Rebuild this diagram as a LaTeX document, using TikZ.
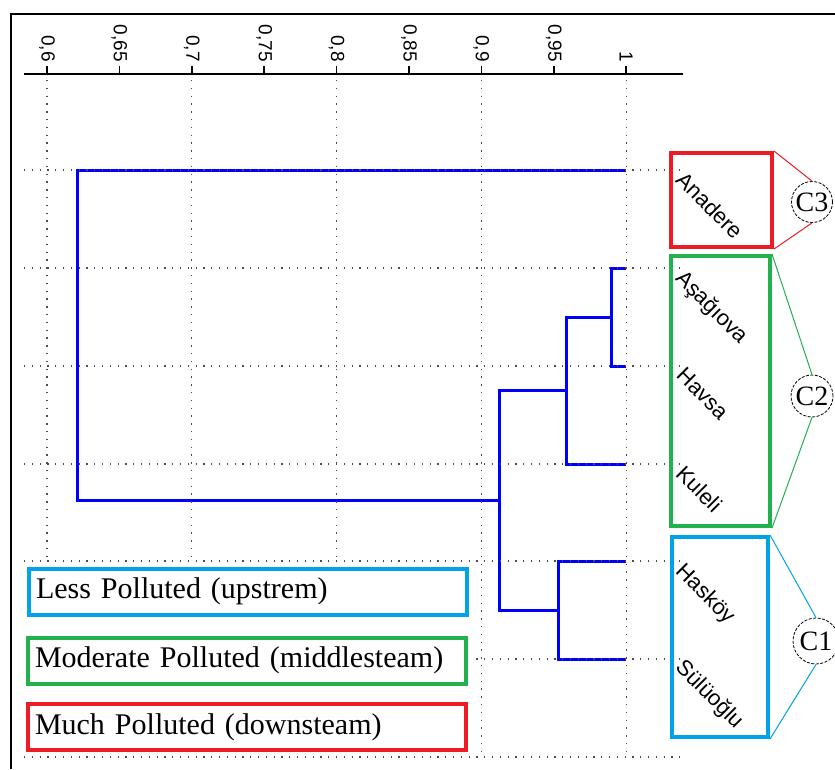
\documentclass[tikz,border=0pt]{standalone}
\usepackage{fontspec}
\setmainfont{Liberation Serif}
\newfontfamily\sitefont{Liberation Sans}

\definecolor{muchred}{RGB}{237,28,36}
\definecolor{modgreen}{RGB}{34,177,76}
\definecolor{lessblue}{RGB}{0,162,232}

\tikzset{
  gridline/.style={dash pattern=on 1.3pt off 6.5pt, line width=1.3pt, black!70},
  treeline/.style={line width=3pt, blue},
  clusterbox/.style={draw=#1, line width=4pt, inner sep=0pt},
  clustercirc/.style={circle, draw=black, dash pattern=on 3pt off 1.5pt, line width=0.8pt, inner sep=0pt, font=\fontsize{28}{30}\selectfont},
  clusterlink/.style={#1, line width=1pt},
  sitelabel/.style={anchor=north west, rotate=-45, inner sep=0pt, font=\sitefont\fontsize{22}{24}\selectfont},
  ticklabel/.style={anchor=east, rotate=-90, inner sep=0pt, font=\sitefont\fontsize{19}{21}\selectfont},
  legendbox/.style={draw=#1, line width=4pt, fill=white, minimum height=46pt, text width=424pt, inner xsep=7pt, align=left, font=\fontsize{30}{32}\selectfont}
}

\begin{document}
\begin{tikzpicture}[x=1pt,y=-1pt]
\fill[white] (0,0) rectangle (835,769);
\clip (0,0) rectangle (835,769);
% frame
\draw[line width=2pt] (11,769) -- (11,13.5) -- (835,13.5);
% similarity axis, grid and tree (x in similarity units)
\begin{scope}[shift={(-821.8pt,0pt)}, x=1448pt]
  \draw[line width=1.5pt] (0.5841,74) -- (1.0392,74);
  \foreach \v/\t [count=\n] in {0.6/{0,6}, 0.65/{0,65}, 0.7/{0,7}, 0.75/{0,75}, 0.8/{0,8}, 0.85/{0,85}, 0.9/{0,9}, 0.95/{0,95}, 1/{1}} {
    \draw[line width=1.5pt] (\v,74) -- (\v,66);
    \node[ticklabel] (tick\n) at (\v,62) {\t};
  }
  % dendrogram
  \draw[treeline] (1,268) -- (0.990,268) -- (0.990,366) -- (1,366);
  \draw[treeline] (0.990,317) -- (0.959,317) -- (0.959,464) -- (1,464);
  \draw[treeline] (1,561) -- (0.9529,561) -- (0.9529,659) -- (1,659);
  \draw[treeline] (0.959,390.5) -- (0.9128,390.5) -- (0.9128,610) -- (0.9529,610);
  \draw[treeline] (1,170) -- (0.6214,170) -- (0.6214,500.25) -- (0.9128,500.25);
  % grid
  \foreach \v in {0.6,0.7,0.8,0.9,1.0}
    \draw[gridline] (\v,80) -- (\v,757);
  \foreach \y in {170,268,366,464,561,659,757}
    \draw[gridline] (0.5841,\y) -- (1.0392,\y);
\end{scope}

% legend
\fill[white] (22,563) rectangle (476,754);
\node[legendbox=lessblue] (legLess) at (248,591.5) {Less Polluted (upstrem)};
\node[legendbox=modgreen] (legModerate) at (247,660.5) {Moderate Polluted (middlesteam)};
\node[legendbox=muchred] (legMuch) at (247,727) {Much Polluted (downsteam)};

% clusters
\node[clusterbox=muchred, minimum width=101pt, minimum height=94pt] (boxC3) at (721.5,200) {};
\node[clusterbox=modgreen, minimum width=99pt, minimum height=270pt] (boxC2) at (720.5,391) {};
\node[clusterbox=lessblue, minimum width=96pt, minimum height=200pt] (boxC1) at (720,637) {};

\node[sitelabel] (sAnadere) at (686,170) {Anadere};
\node[sitelabel] (sAsagiova) at (686,268) {Aşağıova};
\node[sitelabel] (sHavsa) at (686,366) {Havsa};
\node[sitelabel] (sKuleli) at (686,464) {Kuleli};
\node[sitelabel] (sHaskoy) at (686,561) {Hasköy};
\node[sitelabel] (sSuloglu) at (686,657) {Sülüoğlu};

\node[clustercirc, minimum size=41pt] (cC3) at (812,202) {C3};
\node[clustercirc, minimum size=42pt] (cC2) at (812,396) {C2};
\node[clustercirc, minimum size=46pt] (cC1) at (816,641) {C1};

\draw[clusterlink=muchred] (boxC3.north east) -- (cC3.north);
\draw[clusterlink=muchred] (boxC3.south east) -- (cC3.south);
\draw[clusterlink=modgreen] (boxC2.north east) -- (cC2.north);
\draw[clusterlink=modgreen] (boxC2.south east) -- (cC2.south);
\draw[clusterlink=lessblue] (boxC1.north east) -- (cC1.north);
\draw[clusterlink=lessblue] (boxC1.south east) -- (cC1.south);
\end{tikzpicture}
\end{document}
